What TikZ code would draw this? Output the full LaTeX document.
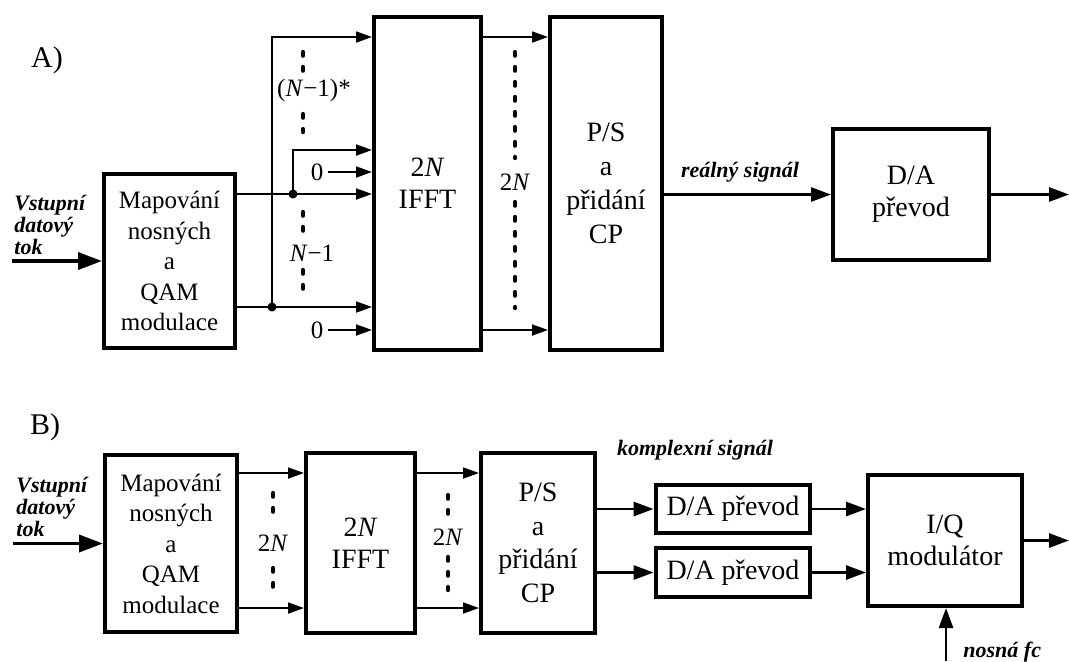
\documentclass[tikz,border=0pt]{standalone}
\usepackage{fontspec}
\setmainfont{Liberation Serif}
\usetikzlibrary{arrows.meta, positioning, calc}

\begin{document}
\begin{tikzpicture}[x=0.5pt, y=-0.5pt,
  box/.style={draw, line width=2pt, align=center, inner sep=0pt, font=\fontsize{14}{16.2}\selectfont},
  thinarr/.style={line width=0.9pt, -{Triangle[length=8pt,width=5.5pt]}},
  thickarr/.style={line width=1.4pt, -{Triangle[length=10pt,width=7pt]}},
  inarr/.style={line width=1.8pt, -{Triangle[length=12pt,width=8.5pt]}},
  dotline/.style={line width=2.2pt, line cap=round, dash pattern=on 1.8pt off 5.7pt},
  lbl/.style={font=\fontsize{11}{11}\selectfont\bfseries\itshape, inner sep=0pt},
  tag/.style={font=\fontsize{15}{15}\selectfont},
  txt/.style={font=\fontsize{12.5}{15}\selectfont, inner sep=2pt},
  dot/.style={circle, fill, inner sep=0pt, minimum size=4.5pt}]

  \useasboundingbox (0,0) rectangle (1069,661);

  % A)
  \node[tag] (tagA) at (47,60) {A)};
  \node[box, minimum width=65.5pt, minimum height=87pt, font=\fontsize{12.5}{15.25}\selectfont] (mapA) at (169.5,261) {Mapování\\nosných\\a\\QAM\\modulace};
  \coordinate (inA) at (12,261);
  \draw[inarr] (inA) -- (mapA.west);
  \node[lbl, align=left, anchor=west] (srcA) at (14,225) {Vstupní\\datový\\tok};

  \node[box, minimum width=53.5pt, minimum height=166.5pt] (ifftA) at (427.5,183.5) {2\textit{N}\\IFFT};
  \node[box, minimum width=56pt, minimum height=166.5pt, font=\fontsize{14}{17}\selectfont] (psA) at (606,183.5) {P/S\\a\\přidání\\CP};
  \node[box, minimum width=78pt, minimum height=65.5pt] (daA) at (911,194.5) {D/A\\převod};

  \node[dot] (dotA1) at (293,194) {};
  \node[dot] (dotA2) at (272,307) {};
  \coordinate (jA1) at (272,37);
  \coordinate (jA2) at (293,150);
  \node[txt] (zA1) at (317,172) {0};
  \node[txt] (zA2) at (317,330) {0};

  \draw[thinarr] (mapA.east |- dotA1) -- (ifftA.west |- dotA1);
  \draw[thinarr] (mapA.east |- dotA2) -- (ifftA.west |- dotA2);
  \draw[thinarr] (dotA2.center) -- (jA1) -- (ifftA.west |- jA1);
  \draw[thinarr] (dotA1.center) -- (jA2) -- (ifftA.west |- jA2);
  \draw[thinarr] (zA1) -- (ifftA.west |- zA1);
  \draw[thinarr] (zA2) -- (ifftA.west |- zA2);

  \draw[dotline] (303,52) -- (303,74) (303,114) -- (303,132);
  \node[txt] (kA1) at (314,90) {(\textit{N}−1)*};
  \draw[dotline] (303,212) -- (303,235) (303,270) -- (303,293);
  \node[txt] (kA2) at (312,253) {\textit{N}−1};

  \draw[thinarr] (ifftA.east |- jA1) -- (psA.west |- jA1);
  \draw[thinarr] (ifftA.east |- zA2) -- (psA.west |- zA2);
  \draw[dotline] (515,52) -- (515,158) (515,202) -- (515,308);
  \node[txt] (kA3) at (515,182) {2\textit{N}};

  \draw[thickarr] (psA.east |- daA.west) -- (daA.west);
  \node[lbl] (sigA) at (740,172) {reálný signál};
  \coordinate (outA) at (1069,194.5);
  \draw[thickarr] (daA.east) -- (outA);

  % B)
  \node[tag] (tagB) at (45,427) {B)};
  \node[box, minimum width=66pt, minimum height=88.5pt, font=\fontsize{12.5}{15.25}\selectfont] (mapB) at (171,543.5) {Mapování\\nosných\\a\\QAM\\modulace};
  \coordinate (inB) at (13,543.5);
  \draw[inarr] (inB) -- (mapB.west);
  \node[lbl, align=left, anchor=west] (srcB) at (16,507) {Vstupní\\datový\\tok};

  \node[box, minimum width=54.5pt, minimum height=90pt] (ifftB) at (360.5,543) {2\textit{N}\\IFFT};
  \node[box, minimum width=57pt, minimum height=90pt, font=\fontsize{14}{16.8}\selectfont] (psB) at (538,543) {P/S\\a\\přidání\\CP};
  \node[box, minimum width=77pt, minimum height=24pt, line width=2.4pt] (daB1) at (733,509) {D/A převod};
  \node[box, minimum width=77pt, minimum height=24.5pt, line width=2.4pt] (daB2) at (733,572.5) {D/A převod};
  \node[box, minimum width=77pt, minimum height=65.5pt] (iqB) at (945,540.5) {I/Q\\modulátor};

  \coordinate (rB1) at (0,473);
  \coordinate (rB2) at (0,608);
  \draw[thinarr] (mapB.east |- rB1) -- (ifftB.west |- rB1);
  \draw[thinarr] (mapB.east |- rB2) -- (ifftB.west |- rB2);
  \draw[dotline] (273,493) -- (273,515) (273,568) -- (273,590);
  \node[txt] (kB1) at (273,543) {2\textit{N}};

  \draw[thinarr] (ifftB.east |- rB1) -- (psB.west |- rB1);
  \draw[thinarr] (ifftB.east |- rB2) -- (psB.west |- rB2);
  \draw[dotline] (448,495) -- (448,517) (448,557) -- (448,590);
  \node[txt] (kB2) at (448,537) {2\textit{N}};

  \node[lbl] (sigB) at (695,450) {komplexní signál};
  \draw[thickarr] (psB.east |- daB1.west) -- (daB1.west);
  \draw[thickarr] (psB.east |- daB2.west) -- (daB2.west);
  \draw[thickarr] (daB1.east) -- (iqB.west |- daB1.east);
  \draw[thickarr] (daB2.east) -- (iqB.west |- daB2.east);

  \coordinate (outB) at (1069,540.5);
  \draw[thickarr] (iqB.east) -- (outB);
  \coordinate (fc) at (946,661);
  \draw[thickarr] (fc) -- (fc |- iqB.south);
  \node[lbl, anchor=west] (fcB) at (963,652) {nosná fc};
\end{tikzpicture}
\end{document}
